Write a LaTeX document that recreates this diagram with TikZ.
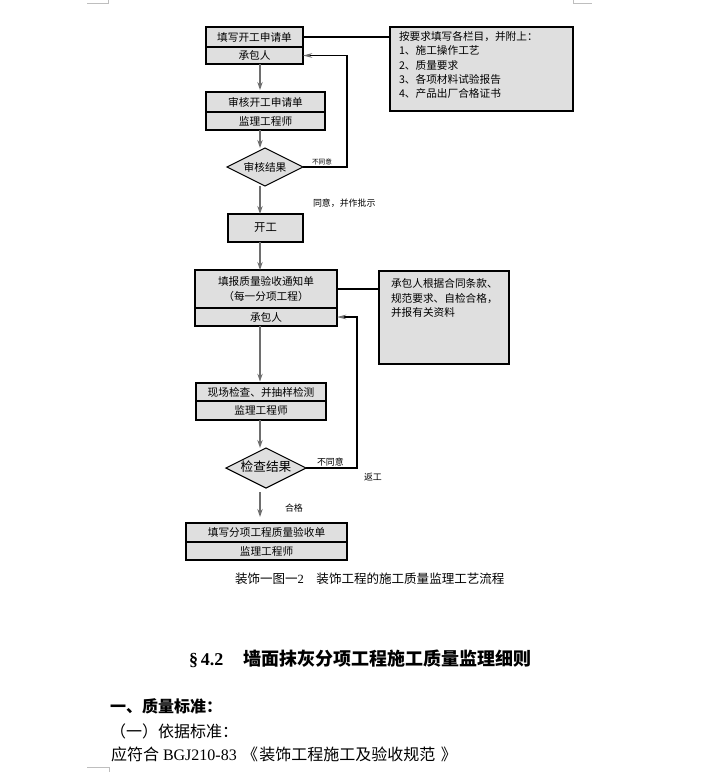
\documentclass[tikz,border=0pt]{standalone}
\usepackage{fontspec}
\setmainfont{Liberation Serif}
\newfontfamily\cjk{Noto Sans CJK SC}
\usetikzlibrary{shapes.geometric,arrows.meta}
\definecolor{boxgray}{RGB}{223,223,223}
\definecolor{arrgray}{RGB}{110,110,110}
\definecolor{markgray}{RGB}{190,190,190}
\newdimen\pxu \pxu=0.75pt
\begin{document}
\begin{tikzpicture}[x=0.75pt,y=-0.75pt,
  every node/.style={inner sep=0pt,outer sep=0pt},
  boxpart/.style={draw=black,line width=0.8pt,fill=boxgray,align=center,
    font=\cjk\fontsize{8}{11}\selectfont},
  decide/.style={diamond,draw=black,line width=0.8pt,fill=boxgray,aspect=2,
    font=\cjk\fontsize{8}{10}\selectfont},
  notebox/.style={draw=black,line width=0.8pt,fill=boxgray},
  notetext/.style={anchor=north west,align=left},
  flowarr/.style={draw=arrgray,line width=1.1pt,-{Stealth[length=6pt,width=4pt]}},
  backarr/.style={draw=black,line width=0.8pt,-{Stealth[length=7pt,width=3.5pt,color=arrgray]}},
  plain/.style={draw=black,line width=0.8pt},
  tag/.style={anchor=west,font=\cjk\fontsize{6.7}{8}\selectfont},
  pagemark/.style={draw=markgray,line width=0.6pt}
]
\useasboundingbox (0,0) rectangle (714,772);

% page corner marks
\draw[pagemark] (87,3) -- (108,3) -- (108,0);
\draw[pagemark] (573,0) -- (573,3) -- (592,3);
\draw[pagemark] (87,767) -- (109,767) -- (109,772);

\coordinate (spine) at (260,0);
\coordinate (fbxa) at (347,0);
\coordinate (fbxb) at (357,0);

% box 1
\node[boxpart,minimum width=97\pxu,minimum height=20\pxu] (b1t) at (254.5,37) {填写开工申请单};
\node[boxpart,minimum width=97\pxu,minimum height=17\pxu] (b1b) at (254.5,55.5) {承包人};
% box 2
\node[boxpart,minimum width=119\pxu,minimum height=20\pxu] (b2t) at (265.5,102) {审核开工申请单};
\node[boxpart,minimum width=119\pxu,minimum height=18\pxu] (b2b) at (265.5,121) {监理工程师};
% decision 1
\node[decide,minimum width=76\pxu,minimum height=38\pxu] (d1) at (265,167) {审核结果};
% start
\node[boxpart,minimum width=75\pxu,minimum height=28\pxu,font=\cjk\fontsize{8.5}{10}\selectfont] (kg) at (265.5,228) {开工};
% box 3
\node[boxpart,minimum width=142\pxu,minimum height=38\pxu] (b3t) at (266,289) {填报质量验收通知单\\（每一分项工程）};
\node[boxpart,minimum width=142\pxu,minimum height=18\pxu] (b3b) at (266,317) {承包人};
% box 4
\node[boxpart,minimum width=130\pxu,minimum height=18\pxu] (b4t) at (261,392) {现场检查、并抽样检测};
\node[boxpart,minimum width=130\pxu,minimum height=19\pxu] (b4b) at (261,410.5) {监理工程师};
% decision 2
\node[decide,minimum width=76\pxu,minimum height=38\pxu,font=\cjk\fontsize{9.5}{11}\selectfont] (d2) at (266,468) {\raisebox{3pt}{检查结果}};
% box 5
\node[boxpart,minimum width=161\pxu,minimum height=19\pxu] (b5t) at (266.5,532.5) {填写分项工程质量验收单};
\node[boxpart,minimum width=161\pxu,minimum height=18\pxu] (b5b) at (266.5,551) {监理工程师};

% note boxes
\node[notebox,minimum width=183\pxu,minimum height=84\pxu] (rb1) at (481.5,69) {};
\node[notetext,font=\cjk\fontsize{8}{10.7}\selectfont] (rb1t) at (399,31.5)
  {按要求填写各栏目，并附上：\\1、施工操作工艺\\2、质量要求\\3、各项材料试验报告\\4、产品出厂合格证书};
\node[notebox,minimum width=130\pxu,minimum height=93\pxu] (rb2) at (444,317.5) {};
\node[notetext,font=\cjk\fontsize{8}{10.9}\selectfont] (rb2t) at (391,278.7)
  {承包人根据合同条款、\\规范要求、自检合格，\\并报有关资料};

% links to notes
\draw[plain] (b1t.east) -- (b1t.east -| rb1.west);
\draw[plain] (b3t.east) -- (b3t.east -| rb2.west);

% main flow
\draw[flowarr,shorten >=1.5pt] (b1b.south -| spine) -- (b2t.north -| spine);
\draw[flowarr] (b2b.south -| spine) -- (d1.north -| spine);
\draw[flowarr] (d1.south -| spine) -- (kg.north -| spine);
\draw[flowarr] (kg.south -| spine) -- (b3t.north -| spine);
\draw[flowarr,shorten >=1pt] (b3b.south -| spine) -- (b4t.north -| spine);
\draw[flowarr] (b4b.south -| spine) -- (d2.north -| spine);
\draw[flowarr,shorten <=3pt,shorten >=4.5pt] (d2.south -| spine) -- (b5t.north -| spine);

% feedback loops
\draw[backarr] (d1.east) -- (d1.east -| fbxa) -- (fbxa |- b1b.east) -- (b1b.east);
\draw[backarr] (d2.east) -- (d2.east -| fbxb) -- (fbxb |- b3b.east) -- (b3b.east);

% labels
\node[tag,font=\cjk\fontsize{5}{6}\selectfont] (lno1) at (312,162) {不同意};
\node[tag] (lyes) at (313,203) {同意，并作批示};
\node[tag] (lno2) at (317,462.5) {不同意};
\node[tag] (lredo) at (364,477) {返工};
\node[tag] (lok) at (285,508) {合格};

% caption and text
\node[anchor=west,font=\fontsize{9.4}{11}\selectfont] (cap) at (235,579)
  {{\cjk 装饰一图一}2{\cjk 　装饰工程的施工质量监理工艺流程}};
\node[anchor=west,font=\bfseries\fontsize{13.5}{16}\selectfont] (head) at (189,659)
  {§\,4.2\hspace{15pt}{\cjk 墙面抹灰分项工程施工质量监理细则}};
\node[anchor=west,font=\cjk\bfseries\fontsize{12}{14}\selectfont] (s1) at (110,706) {一、质量标准：};
\node[anchor=west,font=\cjk\fontsize{12}{14}\selectfont] (s2) at (110,731) {（一）依据标准：};
\node[anchor=west,font=\fontsize{12}{14}\selectfont] (s3) at (111,754)
  {{\cjk 应符合} BGJ210-83\kern4pt{\cjk 《\kern1pt 装饰工程施工及验收规范\kern4pt 》}};
\end{tikzpicture}
\end{document}
